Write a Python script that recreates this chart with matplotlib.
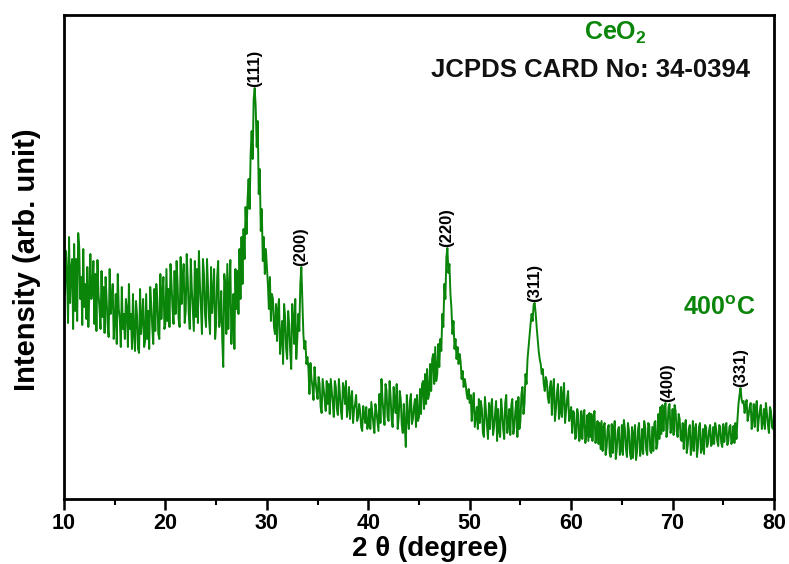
import numpy as np
import matplotlib
matplotlib.use("Agg")
import matplotlib.pyplot as plt
from matplotlib.ticker import MultipleLocator, NullLocator

plt.rcParams['font.family'] = ['Liberation Sans', 'DejaVu Sans']
plt.rcParams['font.weight'] = 'bold'
plt.rcParams['mathtext.fontset'] = 'custom'
plt.rcParams['mathtext.rm'] = 'Liberation Sans:bold'
plt.rcParams['mathtext.it'] = 'Liberation Sans:bold'
plt.rcParams['mathtext.bf'] = 'Liberation Sans:bold'

# 2-theta from 10 to 80 deg in 0.1 deg steps; one row per degree
two_theta_start = 10.0
two_theta_step = 0.1
intensity_rows = [
    [274, 205, 248, 226, 176, 262, 196, 230, 240, 170],  # 10
    [255, 188, 240, 178, 266, 252, 200, 222, 174, 250],  # 11
    [192, 215, 180, 232, 172, 205, 245, 200, 210, 238],  # 12
    [175, 225, 168, 239, 205, 190, 170, 228, 182, 212],  # 13
    [166, 222, 200, 175, 162, 230, 185, 196, 215, 160],  # 14
    [178, 205, 155, 225, 190, 180, 152, 212, 170, 185],  # 15
    [160, 200, 190, 152, 215, 170, 185, 150, 205, 165],  # 16
    [148, 198, 184, 150, 146, 210, 165, 180, 200, 152],  # 17
    [158, 205, 160, 188, 150, 212, 195, 172, 155, 210],  # 18
    [168, 215, 200, 165, 160, 225, 180, 205, 222, 170],  # 19
    [176, 230, 178, 210, 172, 235, 215, 190, 175, 228],  # 20
    [185, 238, 215, 180, 172, 242, 195, 220, 235, 176],  # 21
    [188, 245, 220, 185, 170, 240, 210, 190, 168, 238],  # 22
    [182, 230, 176, 248, 215, 192, 165, 240, 225, 185],  # 23
    [172, 240, 212, 180, 165, 232, 186, 205, 230, 160],  # 24
    [175, 222, 238, 172, 180, 208, 160, 132, 225, 215],  # 25
    [165, 235, 170, 212, 239, 155, 182, 205, 150, 230],  # 26
    [190, 228, 185, 250, 200, 262, 215, 270, 240, 292],  # 27
    [265, 300, 320, 290, 345, 368, 340, 400, 411, 392],  # 28
    [352, 378, 305, 330, 268, 290, 238, 262, 225, 250],  # 29
    [232, 215, 190, 222, 178, 205, 200, 172, 165, 195],  # 30
    [158, 190, 200, 145, 160, 178, 135, 195, 182, 150],  # 31
    [140, 188, 175, 148, 130, 195, 180, 155, 200, 140],  # 32
    [160, 185, 168, 215, 232, 198, 165, 150, 158, 135],  # 33
    [142, 130, 105, 136, 120, 112, 99, 132, 118, 108],   # 34
    [100, 122, 115, 92, 86, 120, 110, 100, 88, 118],     # 35
    [95, 115, 85, 120, 108, 96, 82, 118, 112, 90],       # 36
    [84, 120, 105, 88, 80, 116, 110, 95, 118, 82],       # 37
    [92, 112, 80, 100, 108, 76, 90, 95, 104, 78],        # 38
    [82, 95, 88, 72, 68, 93, 85, 76, 92, 70],            # 39
    [74, 90, 70, 97, 86, 75, 66, 95, 88, 78],            # 40
    [68, 105, 76, 120, 100, 85, 74, 115, 108, 82],       # 41
    [78, 118, 102, 80, 72, 112, 98, 86, 115, 70],        # 42
    [82, 108, 100, 74, 66, 95, 72, 52, 104, 80],         # 43
    [70, 98, 105, 75, 80, 92, 100, 72, 104, 78],         # 44
    [82, 110, 85, 115, 118, 90, 125, 95, 130, 100],      # 45
    [105, 135, 108, 140, 145, 115, 152, 118, 125, 155],  # 46
    [132, 160, 148, 185, 172, 215, 200, 242, 251, 226],  # 47
    [235, 205, 190, 165, 178, 150, 160, 140, 152, 135],  # 48
    [145, 138, 120, 128, 112, 120, 115, 105, 100, 110],  # 49
    [96, 104, 78, 96, 106, 72, 82, 92, 70, 100],         # 50
    [76, 98, 90, 66, 62, 102, 88, 75, 60, 96],           # 51
    [70, 92, 100, 64, 72, 86, 98, 58, 90, 68],           # 52
    [62, 100, 88, 70, 60, 96, 104, 66, 74, 90],          # 53
    [64, 94, 100, 65, 72, 88, 98, 62, 102, 70],          # 54
    [78, 105, 112, 85, 95, 125, 115, 140, 152, 165],     # 55
    [175, 185, 178, 194, 196, 186, 172, 160, 148, 140],  # 56
    [135, 125, 130, 115, 108, 122, 118, 102, 96, 112],   # 57
    [118, 84, 110, 120, 78, 90, 106, 115, 80, 86],       # 58
    [112, 82, 104, 116, 76, 88, 100, 108, 78, 84],       # 59
    [92, 66, 88, 86, 60, 62, 90, 84, 58, 64],            # 60
    [88, 60, 82, 89, 56, 64, 84, 58, 86, 62],            # 61
    [85, 58, 80, 88, 56, 62, 78, 55, 76, 50],            # 62
    [78, 48, 72, 76, 44, 52, 70, 74, 46, 42],            # 63
    [75, 46, 70, 78, 40, 50, 68, 72, 44, 48],            # 64
    [74, 44, 79, 70, 50, 42, 76, 68, 46, 40],            # 65
    [72, 41, 66, 74, 39, 48, 70, 76, 43, 50],            # 66
    [70, 45, 78, 72, 49, 44, 76, 74, 48, 46],            # 67
    [72, 48, 76, 78, 50, 55, 85, 60, 92, 65],            # 68
    [94, 68, 90, 96, 62, 70, 92, 95, 66, 72],            # 69
    [90, 64, 94, 88, 68, 62, 85, 80, 60, 58],            # 70
    [76, 50, 72, 79, 46, 54, 70, 74, 44, 52],            # 71
    [78, 48, 70, 75, 42, 52, 72, 76, 46, 50],            # 72
    [70, 45, 74, 72, 52, 56, 69, 74, 53, 55],            # 73
    [72, 55, 76, 70, 58, 53, 74, 72, 56, 52],            # 74
    [75, 57, 70, 76, 54, 58, 72, 74, 55, 59],            # 75
    [73, 56, 76, 60, 80, 95, 104, 111, 100, 96],         # 76
    [98, 86, 94, 99, 78, 84, 92, 96, 70, 80],            # 77
    [95, 72, 90, 98, 68, 80, 88, 94, 70, 76],            # 78
    [90, 70, 96, 86, 74, 66, 92, 88, 72, 70],            # 79
    [84],                                                # 80
]

peak_labels = ['(111)', '(200)', '(220)', '(311)', '(400)', '(331)']
peak_positions = [28.8, 33.3, 47.7, 56.4, 69.5, 76.7]

intensity = np.array([v for row in intensity_rows for v in row], dtype=float)
two_theta = two_theta_start + two_theta_step * np.arange(len(intensity))

GREEN = '#0a850a'

fig = plt.figure(figsize=(7.89, 5.64), dpi=100)
ax = fig.add_axes([64/789, 65/564, 710/789, 484/564])
ax.plot(two_theta, intensity, color=GREEN, lw=1.4)
ax.set_xlim(10, 80)
ax.set_ylim(0, 484)

ax.xaxis.set_major_locator(MultipleLocator(10))
ax.xaxis.set_minor_locator(MultipleLocator(5))
ax.yaxis.set_major_locator(NullLocator())
ax.tick_params(axis='x', which='major', direction='out', length=8, width=1.8,
               labelsize=15.5, pad=2)
ax.tick_params(axis='x', which='minor', direction='out', length=4, width=1.5)
for lab in ax.get_xticklabels():
    lab.set_fontweight('bold')
for s in ax.spines.values():
    s.set_linewidth(2)

for lab, pos in zip(peak_labels, peak_positions):
    m = (two_theta > pos - 0.35) & (two_theta < pos + 0.35)
    ytop = intensity[m].max()
    ax.annotate(lab, xy=(pos, ytop), xytext=(0, 1), textcoords='offset points',
                rotation=90, ha='center', va='bottom', fontsize=12,
                fontweight='bold', color='black')

ax.text(0.776, 0.963, r'CeO$_2$', transform=ax.transAxes, color=GREEN,
        fontsize=18, fontweight='bold', ha='center', va='center')
ax.text(0.742, 0.886, 'JCPDS CARD No: 34-0394', transform=ax.transAxes,
        color='#111111', fontsize=18.5, fontweight='bold', ha='center', va='center')
ax.text(0.923, 0.395, r'400$^\mathregular{o}$C', transform=ax.transAxes, color=GREEN,
        fontsize=18, fontweight='bold', ha='center', va='center')

fig.text(27/789, 1 - 260/564, 'Intensity (arb. unit)', rotation=90,
         ha='center', va='center', fontsize=21, fontweight='bold')
fig.text(430/789, 1 - 549/564, '2 θ (degree)', ha='center', va='center',
         fontsize=20, fontweight='bold')

fig.savefig('out.png', dpi=100)
